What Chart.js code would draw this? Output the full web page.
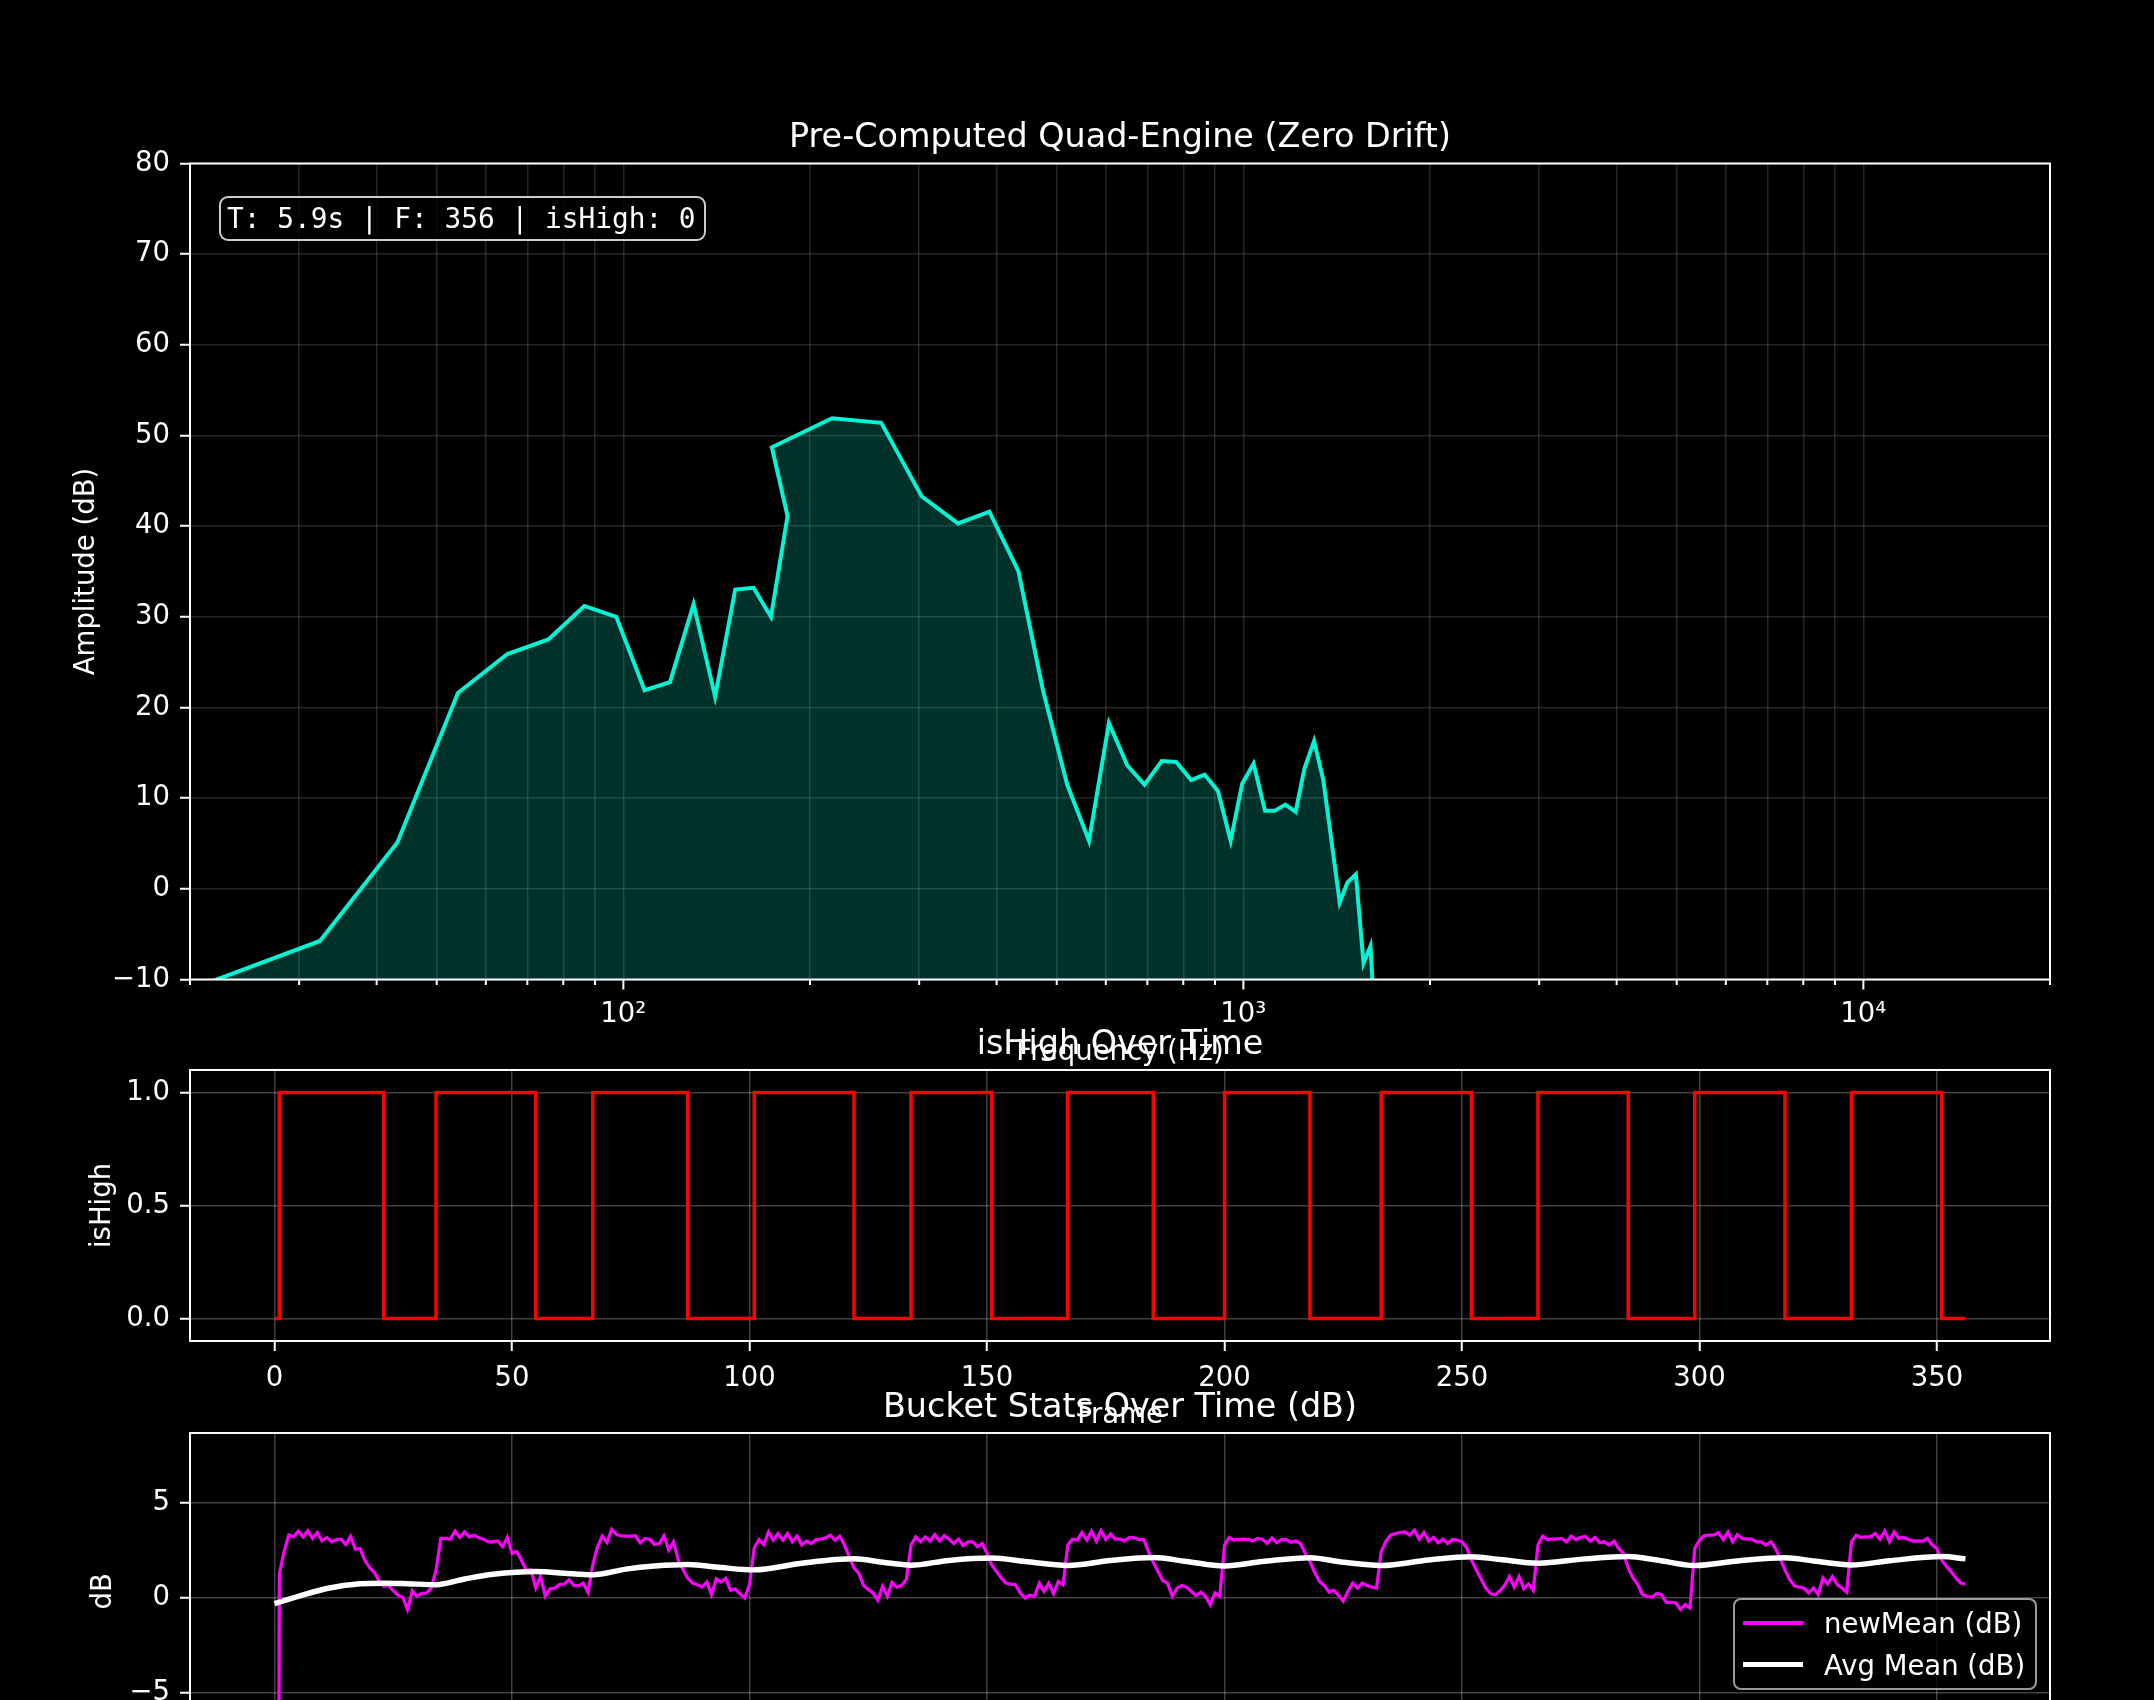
<!DOCTYPE html>
<html>
<head>
<meta charset="utf-8">
<script src="https://cdn.jsdelivr.net/npm/chart.js@4.4.1/dist/chart.umd.min.js"></script>
<style>
  html, body { margin: 0; padding: 0; background: #000; width: 2154px; height: 1700px; overflow: hidden; }
  #stage { position: relative; width: 2154px; height: 1700px; overflow: hidden; background: #000; }
  #stage canvas { position: absolute; left: 0; }
  .infobox {
    position: absolute; left: 219px; top: 196px; width: 487px; height: 45px;
    box-sizing: border-box; border: 2px solid rgba(255,255,255,0.8); border-radius: 9px;
    background: rgba(0,0,0,0.8); color: #fff; white-space: pre;
    font: 27.8px 'DejaVu Sans Mono', monospace; line-height: 41px; padding-left: 6px;
  }
  .legend {
    position: absolute; left: 1733px; top: 1598px; width: 304px; height: 92px;
    box-sizing: border-box; border: 2px solid rgba(255,255,255,0.6); border-radius: 8px;
    background: rgba(0,0,0,0.8); color: #fff; font: 27.5px 'DejaVu Sans', sans-serif;
  }
  .legend .row { position: absolute; left: 0; height: 40px; width: 100%; }
  .legend .swatch { position: absolute; left: 8px; width: 60px; top: 50%; }
  .legend .lbl { position: absolute; left: 89px; top: 0; line-height: 40px; white-space: nowrap; }
</style>
</head>
<body>
<div id="stage">
  <canvas id="specChart" width="2154" height="1073" style="top:0px"></canvas>
  <canvas id="highChart" width="2154" height="446" style="top:990px"></canvas>
  <canvas id="statsChart" width="2154" height="480" style="top:1370px"></canvas>
  <div id="infoBox" class="infobox"></div>
  <div id="statsLegend" class="legend"></div>
</div>
<script>
// ===== spectrum (top) =====
const specFreqs = [21.5, 32.4, 43.2, 54.1, 65.0, 75.7, 86.5, 97.4, 108.2, 118.9, 129.8, 140.6, 151.5, 162.2, 173.0, 184.0,
  173.6, 217.1, 260.6, 302.7, 346.5, 389.4, 433.8, 475.1, 519.8, 563.7, 607.0, 649.9, 692.7, 738.5, 779.3, 823.9, 865.7,
  910.0, 953.9, 995.7, 1038.7, 1083.9, 1123.1, 1168.7, 1214.4, 1254.9, 1300.4, 1345.7, 1430.4, 1471.8, 1518.6, 1562.6,
  1603.3, 1646.0];
const specAmps = [-10.3, -5.75, 5.1, 21.6, 25.9, 27.5, 31.2, 30.0, 21.9, 22.8, 31.4, 21.2, 33.0, 33.2, 30.0, 41.1,
  48.7, 51.9, 51.4, 43.3, 40.3, 41.6, 35.0, 21.9, 11.5, 5.3, 18.3, 13.6, 11.5, 14.1, 14.0, 12.0, 12.6,
  10.8, 5.3, 11.6, 13.8, 8.6, 8.6, 9.3, 8.5, 13.3, 16.3, 12.0, -1.5, 0.7, 1.6, -8.2,
  -6.3, -20.0];
const freqTicks = [20, 30, 40, 50, 60, 70, 80, 90, 100, 200, 300, 400, 500, 600, 700, 800, 900,
  1000, 2000, 3000, 4000, 5000, 6000, 7000, 8000, 9000, 10000, 20000];
const majorFreqs = [100, 1000, 10000];
const majorFreqLabels = ['10\u00B2', '10\u00B3', '10\u2074'];

const infoTime = 5.9, infoFrame = 356, infoHigh = 0;

// ===== isHigh (middle) =====
const riseFrames = [1, 34, 67, 101, 134, 167, 200, 233, 266, 299, 332];
const fallFrames = [23, 55, 87, 122, 151, 185, 218, 252, 285, 318, 351];
const lastFrame = 356;

// ===== bucket stats (bottom) =====
const newMeanDb = [
  -98, 1.25, 2.44, 3.31, 3.22, 3.52, 3.22, 3.54, 3.14, 3.45, 3.01, 3.19, 2.96, 3.08, 3.10, 2.82, 3.24, 2.58, 2.60, 2.0,
  1.60, 1.34, 0.91, 0.61, 0.66, 0.38, 0.14, 0.03, -0.61, 0.38, 0.09, 0.24, 0.26, 0.52, 1.48, 3.14, 3.14, 3.10, 3.52, 3.19,
  3.48, 3.22, 3.31, 3.17, 3.10, 2.96, 2.96, 3.0, 2.70, 3.19, 2.35, 2.44, 1.97, 1.48, 1.48, 0.52, 1.13, 0.09, 0.49, 0.52,
  0.70, 0.73, 0.96, 0.66, 0.64, 0.78, 0.30, 1.74, 2.70, 3.26, 2.93, 3.62, 3.34, 3.28, 3.26, 3.26, 3.28, 2.91, 3.14, 3.08,
  2.82, 2.87, 3.28, 2.53, 2.96, 2.0, 1.48, 1.05, 0.78, 0.70, 0.57, 0.84, 0.17, 1.01, 0.84, 1.03, 0.40, 0.47, 0.21, 0.0,
  0.70, 2.65, 3.08, 2.82, 3.48, 3.05, 3.40, 3.05, 3.40, 2.96, 3.26, 2.79, 3.0, 2.87, 3.08, 3.10, 3.17, 3.31, 3.05, 3.26,
  2.79, 2.18, 1.57, 1.31, 0.66, 0.44, 0.26, -0.12, 0.61, 0.09, 0.82, 0.57, 0.66, 0.96, 2.79, 3.22, 2.96, 3.22, 3.0, 3.34,
  3.0, 3.28, 3.10, 2.87, 3.10, 2.75, 2.96, 2.96, 2.70, 2.87, 2.35, 1.74, 1.39, 1.05, 0.78, 0.73, 0.70, 0.26, 0.0, 0.14,
  0.09, 0.78, 0.35, 0.78, 0.23, 0.87, 0.70, 2.79, 3.10, 3.05, 3.45, 3.05, 3.52, 3.0, 3.54, 3.08, 3.36, 3.10, 3.10, 3.01,
  3.19, 3.17, 3.08, 3.08, 2.44, 1.88, 1.39, 0.91, 0.78, 0.09, 0.52, 0.66, 0.57, 0.35, 0.12, 0.30, 0.09, -0.35, 0.26, 0.09,
  2.79, 3.19, 3.05, 3.08, 3.10, 3.08, 3.01, 3.14, 3.10, 2.87, 3.17, 2.91, 3.08, 3.08, 2.93, 3.0, 2.87, 2.35, 1.92, 1.34,
  0.87, 0.66, 0.31, 0.40, 0.14, -0.17, 0.35, 0.78, 0.52, 0.78, 0.66, 0.57, 0.52, 2.44, 3.0, 3.31, 3.40, 3.45, 3.48, 3.31,
  3.57, 3.10, 3.45, 3.0, 3.19, 2.91, 3.10, 2.87, 3.08, 3.05, 2.96, 2.65, 2.0, 1.48, 1.01, 0.52, 0.23, 0.17, 0.38, 0.66,
  1.13, 0.57, 1.13, 0.49, 0.73, 0.40, 2.79, 3.26, 3.08, 3.10, 3.10, 3.14, 2.96, 3.26, 3.08, 3.20, 3.24, 3.0, 3.19, 2.91,
  2.96, 2.79, 3.0, 2.61, 2.35, 1.57, 1.05, 0.70, 0.17, 0.09, 0.03, 0.23, 0.17, -0.23, -0.23, -0.26, -0.61, -0.35, -0.52, 2.61,
  3.05, 3.28, 3.31, 3.31, 3.45, 3.08, 3.48, 2.96, 3.34, 3.14, 3.10, 3.10, 2.96, 2.96, 2.79, 2.96, 2.61, 2.09, 1.48, 0.96,
  0.64, 0.57, 0.52, 0.26, 0.52, 0.17, 1.05, 0.73, 1.13, 0.70, 0.52, 0.30, 2.96, 3.31, 3.19, 3.22, 3.22, 3.40, 3.10, 3.52,
  2.96, 3.48, 3.14, 3.19, 3.08, 3.0, 3.01, 3.0, 3.14, 2.79, 2.61, 2.0, 1.66, 1.39, 1.05, 0.78, 0.73
];
const avgFrames = [0, 5, 11, 18, 23, 28, 34, 40, 46, 55, 61, 67, 74, 80, 87, 94, 101, 111, 122, 128,
  134, 142, 151, 158, 167, 176, 185, 192, 200, 208, 218, 225, 233, 243, 252, 258, 266, 276, 285, 291,
  299, 308, 318, 324, 332, 340, 351, 356];
const avgMeanDb = [-0.30, 0.08, 0.50, 0.75, 0.78, 0.75, 0.70, 1.00, 1.25, 1.40, 1.30, 1.22, 1.52, 1.68, 1.76, 1.60, 1.48, 1.83, 2.06, 1.88,
  1.73, 1.98, 2.10, 1.92, 1.71, 1.97, 2.13, 1.92, 1.69, 1.92, 2.12, 1.88, 1.71, 2.00, 2.17, 2.03, 1.83, 2.06, 2.18, 2.00,
  1.71, 1.95, 2.12, 1.95, 1.74, 1.96, 2.18, 2.06];

// ----- shared look -----
Chart.defaults.font.family = "'DejaVu Sans', sans-serif";
Chart.defaults.font.size = 27.5;
Chart.defaults.color = '#ffffff';

const GRID_TOP = 'rgba(255,255,255,0.14)';
const GRID_LOW = 'rgba(255,255,255,0.25)';
const minus = s => String(s).replace('-', '\u2212');

// white box round every plot area, like matplotlib spines
const frameBox = {
  id: 'frameBox',
  afterDatasetsDraw(chart) {
    const a = chart.chartArea, ctx = chart.ctx;
    ctx.save();
    ctx.strokeStyle = '#fff';
    ctx.lineWidth = 2;
    ctx.strokeRect(a.left, a.top, a.right - a.left, a.bottom - a.top);
    ctx.restore();
  }
};

// long ticks on decades, short ones in between
const logTickMarks = {
  id: 'logTickMarks',
  afterDraw(chart) {
    const s = chart.scales.x, ctx = chart.ctx, y0 = chart.chartArea.bottom;
    ctx.save();
    ctx.strokeStyle = '#fff';
    ctx.lineWidth = 2;
    s.ticks.forEach(t => {
      const x = s.getPixelForValue(t.value);
      const len = majorFreqs.includes(t.value) ? 10 : 5.5;
      ctx.beginPath(); ctx.moveTo(x, y0); ctx.lineTo(x, y0 + len); ctx.stroke();
    });
    ctx.restore();
  }
};

// titles sit over the plot area only (fullSize off), not the whole canvas
function titleOpts(text) {
  return { display: true, fullSize: false, text, color: '#fff', font: { size: 33.4, weight: 'normal' }, padding: { top: 0, bottom: 5 } };
}

function yScale(title, titlePad, grid, extra) {
  return Object.assign({
    position: 'left',
    afterFit: s => { s.width = 190; },
    grid: { color: grid, lineWidth: 1.5, tickColor: '#fff', tickLength: 10, tickWidth: 2 },
    border: { display: false },
    title: { display: true, text: title, color: '#fff', padding: { top: titlePad, bottom: 0 } }
  }, extra);
}

function frameScale(axisHeight, grid) {
  return {
    type: 'linear', position: 'bottom', min: -17.8, max: 373.8,
    afterFit: s => { s.height = axisHeight; },
    afterBuildTicks: s => { s.ticks = s.ticks.filter(t => t.value >= 0 && t.value % 50 === 0); },
    grid: { color: grid, lineWidth: 1.5, tickColor: '#fff', tickLength: 10, tickWidth: 2 },
    border: { display: false },
    ticks: { stepSize: 50, includeBounds: false, autoSkip: false, maxRotation: 0, padding: 11, color: '#fff' },
    title: { display: true, text: 'Frame', color: '#fff', padding: { top: 4, bottom: 4 } }
  };
}

// title box is 33.4*1.2 + 5 tall, so padding top = plot top - 45.1 - canvas top
// ----- top: spectrum -----
new Chart(document.getElementById('specChart'), {
  type: 'line',
  data: {
    datasets: [{
      data: specFreqs.map((f, i) => ({ x: f, y: specAmps[i] })),
      borderColor: '#00f5d4',
      backgroundColor: 'rgba(0,245,212,0.2)',
      fill: 'start',
      borderWidth: 4,
      pointRadius: 0,
      tension: 0,
      clip: 0
    }]
  },
  options: {
    responsive: false, maintainAspectRatio: false, animation: false, devicePixelRatio: 1,
    layout: { padding: { top: 118.4, right: 104, left: 0, bottom: 0 } },
    plugins: { legend: { display: false }, tooltip: { enabled: false }, title: titleOpts('Pre-Computed Quad-Engine (Zero Drift)') },
    scales: {
      x: {
        type: 'logarithmic', position: 'bottom', min: 20, max: 20000,
        afterFit: s => { s.height = 93.5; },
        afterBuildTicks: s => { s.ticks = freqTicks.map(v => ({ value: v })); },
        grid: { color: GRID_TOP, lineWidth: 1.5, drawTicks: false },
        border: { display: false },
        ticks: {
          autoSkip: false, maxRotation: 0, padding: 19, color: '#fff',
          callback: v => { const k = majorFreqs.indexOf(v); return k >= 0 ? majorFreqLabels[k] : ''; }
        },
        title: { display: true, text: 'Frequency (Hz)', color: '#fff', padding: { top: 4, bottom: 4 } }
      },
      y: yScale('Amplitude (dB)', 70, GRID_TOP, {
        min: -10, max: 80,
        ticks: { stepSize: 10, padding: 10, color: '#fff', callback: v => minus(v) }
      })
    }
  },
  plugins: [frameBox, logTickMarks]
});

document.getElementById('infoBox').textContent = `T: ${infoTime}s | F: ${infoFrame} | isHigh: ${infoHigh}`;

// ----- middle: isHigh -----
const highPoints = [{ x: 0, y: 0 }];
riseFrames.forEach((r, i) => { highPoints.push({ x: r, y: 1 }, { x: fallFrames[i], y: 0 }); });
highPoints.push({ x: lastFrame, y: 0 });

new Chart(document.getElementById('highChart'), {
  type: 'line',
  data: {
    datasets: [{
      data: highPoints, stepped: 'before',
      borderColor: '#ff0000', borderWidth: 3.5, pointRadius: 0, fill: false, clip: 0
    }]
  },
  options: {
    responsive: false, maintainAspectRatio: false, animation: false, devicePixelRatio: 1,
    layout: { padding: { top: 34.9, right: 104, left: 0, bottom: 0 } },
    plugins: { legend: { display: false }, tooltip: { enabled: false }, title: titleOpts('isHigh Over Time') },
    scales: {
      x: frameScale(95, GRID_LOW),
      y: yScale('isHigh', 86.5, GRID_LOW, {
        min: -0.1, max: 1.1,
        afterBuildTicks: s => { s.ticks = s.ticks.filter(t => t.value >= -1e-9 && t.value <= 1 + 1e-9); },
        ticks: { stepSize: 0.5, includeBounds: false, padding: 10, color: '#fff', callback: v => Number(v).toFixed(1) }
      })
    }
  },
  plugins: [frameBox]
});

// ----- bottom: bucket stats -----
const statsChart = new Chart(document.getElementById('statsChart'), {
  type: 'line',
  data: {
    datasets: [
      {
        label: 'newMean (dB)',
        data: newMeanDb.map((v, i) => ({ x: i, y: v })),
        borderColor: '#ff00ff', borderWidth: 3.2, pointRadius: 0, fill: false, clip: 0, order: 1
      },
      {
        label: 'Avg Mean (dB)',
        data: avgFrames.map((f, i) => ({ x: f, y: avgMeanDb[i] })),
        borderColor: '#ffffff', borderWidth: 5.5, pointRadius: 0, fill: false, clip: 0, order: 0,
        cubicInterpolationMode: 'monotone'
      }
    ]
  },
  options: {
    responsive: false, maintainAspectRatio: false, animation: false, devicePixelRatio: 1,
    layout: { padding: { top: 17.9, right: 104, left: 0, bottom: 0 } },
    plugins: { legend: { display: false }, tooltip: { enabled: false }, title: titleOpts('Bucket Stats Over Time (dB)') },
    scales: {
      x: frameScale(100.4, GRID_LOW),
      y: yScale('dB', 87, GRID_LOW, {
        min: -8, max: 8.7,
        afterBuildTicks: s => { s.ticks = s.ticks.filter(t => t.value % 5 === 0); },
        ticks: { stepSize: 5, includeBounds: false, padding: 10, color: '#fff', callback: v => minus(v) }
      })
    }
  },
  plugins: [frameBox]
});

// legend box in the lower right of the bottom plot
const legendEl = document.getElementById('statsLegend');
statsChart.data.datasets.forEach((ds, i) => {
  const row = document.createElement('div');
  row.className = 'row';
  row.style.top = (3 + i * 41.5) + 'px';
  const sw = document.createElement('div');
  sw.className = 'swatch';
  sw.style.height = ds.borderWidth + 'px';
  sw.style.marginTop = (-ds.borderWidth / 2) + 'px';
  sw.style.background = ds.borderColor;
  const lb = document.createElement('div');
  lb.className = 'lbl';
  lb.textContent = ds.label;
  row.appendChild(sw); row.appendChild(lb);
  legendEl.appendChild(row);
});
</script>
</body>
</html>
